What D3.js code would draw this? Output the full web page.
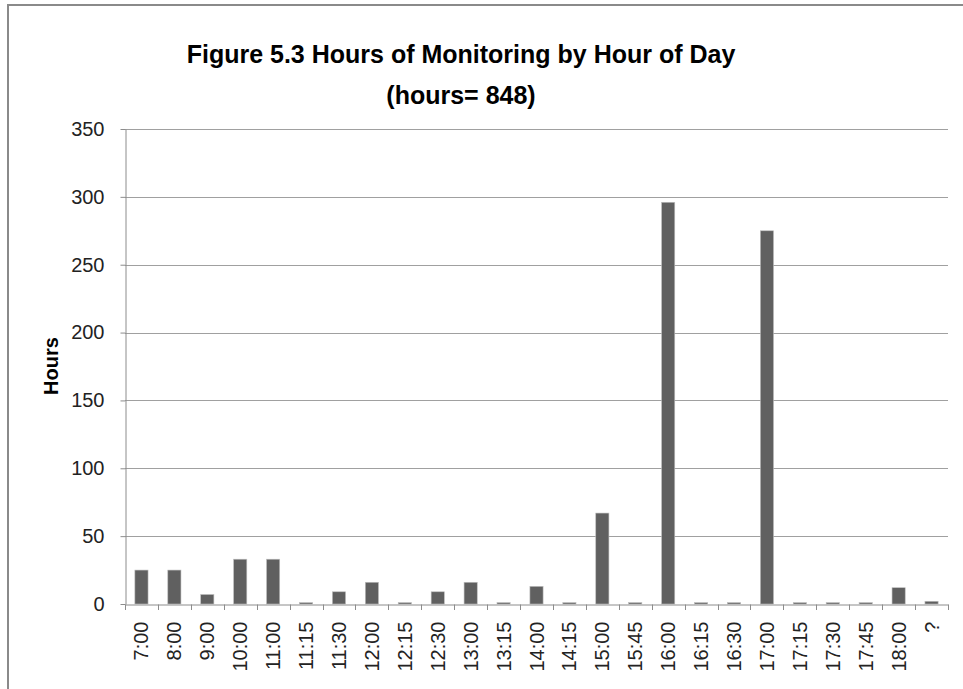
<!DOCTYPE html>
<head>
	<meta charset="utf-8">
	<script src="https://d3js.org/d3.v7.min.js"></script>
	<style>
		body { margin: 0; background: #fff; }
		text { font-family: "Liberation Sans", Arial, sans-serif; }
	</style>
</head>
<body>
	<div id="chart"></div>
	<script>

	var width = 963,
	height = 689;

	// data
	var hourLabels = ["7:00", "8:00", "9:00", "10:00", "11:00", "11:15", "11:30", "12:00", "12:15",
		"12:30", "13:00", "13:15", "14:00", "14:15", "15:00", "15:45", "16:00", "16:15", "16:30",
		"17:00", "17:15", "17:30", "17:45", "18:00", "?"];
	var hoursValues = [25, 25, 7, 33, 33, 1, 9, 16, 1, 9, 16, 1, 13, 1, 67, 1, 296, 1, 1, 275, 1, 1, 1, 12, 2];
	var yTicks = [0, 50, 100, 150, 200, 250, 300, 350];
	var titleLines = ["Figure 5.3 Hours of Monitoring by Hour of Day", "(hours= 848)"];

	var margin = {top: 129, right: 15, bottom: 85, left: 125};

	var svg = d3.select("#chart").append("svg")
		.attr("width", width)
		.attr("height", height);

	// outer frame of the chart area (runs off the right and bottom edge)
	svg.append("rect")
		.attr("x", 8)
		.attr("y", 5)
		.attr("width", width + 20)
		.attr("height", height + 20)
		.attr("fill", "none")
		.attr("stroke", "#8a8a8a")
		.attr("stroke-width", 2);

	var x = d3.scaleBand()
		.domain(hourLabels)
		.range([margin.left, width - margin.right])
		.paddingInner(0.6)
		.paddingOuter(0.3);

	var y = d3.scaleLinear()
		.domain([0, 350])
		.range([height - margin.bottom, margin.top]);

	// gridlines
	svg.append("g")
		.selectAll("line")
		.data(yTicks.filter(d => d > 0))
		.join("line")
			.attr("x1", margin.left)
			.attr("x2", width - margin.right)
			.attr("y1", d => Math.round(y(d)) + 0.5)
			.attr("y2", d => Math.round(y(d)) + 0.5)
			.attr("stroke", "#a0a0a0");

	// y axis
	var yAxis = svg.append("g")
		.attr("transform", "translate(" + (margin.left + 0.5) + ",0)")
		.call(d3.axisLeft(y).tickValues(yTicks).tickSize(5).tickSizeOuter(0).tickPadding(16));
	yAxis.selectAll("path, line").attr("stroke", "#8c8c8c");
	yAxis.selectAll("text")
		.attr("font-size", 20)
		.attr("fill", "#222");

	// bars
	svg.append("g")
		.selectAll("rect")
		.data(hoursValues)
		.join("rect")
			.attr("x", (d, i) => x(hourLabels[i]))
			.attr("y", d => y(d))
			.attr("width", x.bandwidth())
			.attr("height", d => y(0) - y(d))
			.attr("fill", "#606060")
			.attr("stroke", "#bdbdbd")
			.attr("stroke-width", 0.6);

	// x axis: labels at band centres, ticks between categories
	var x0 = y(0);
	var xAxis = svg.append("g")
		.attr("transform", "translate(0," + (Math.round(x0) + 0.5) + ")")
		.call(d3.axisBottom(x).tickSize(0).tickSizeOuter(0).tickPadding(0));
	xAxis.select(".domain").attr("stroke", "#8c8c8c");
	xAxis.selectAll("text")
		.attr("font-size", 20)
		.attr("fill", "#222")
		.attr("transform", "rotate(-90)")
		.attr("text-anchor", "end")
		.attr("dy", "0.35em")
		.attr("x", -17)
		.attr("y", 0);

	var step = x.step();
	svg.append("g")
		.selectAll("line")
		.data(d3.range(hourLabels.length + 1))
		.join("line")
			.attr("x1", i => Math.round(x.range()[0] + i * step) + 0.5)
			.attr("x2", i => Math.round(x.range()[0] + i * step) + 0.5)
			.attr("y1", Math.round(x0) + 0.5)
			.attr("y2", Math.round(x0) + 6)
			.attr("stroke", "#8c8c8c");

	// axis title
	svg.append("text")
		.attr("transform", "translate(58,366) rotate(-90)")
		.attr("text-anchor", "middle")
		.attr("font-size", 20)
		.attr("font-weight", "bold")
		.text("Hours");

	// chart title
	svg.append("g")
		.selectAll("text")
		.data(titleLines)
		.join("text")
			.attr("x", 461)
			.attr("y", (d, i) => 63 + i * 41)
			.attr("text-anchor", "middle")
			.attr("font-size", 25)
			.attr("font-weight", "bold")
			.text(d => d);

</script>
</body>
<html>
